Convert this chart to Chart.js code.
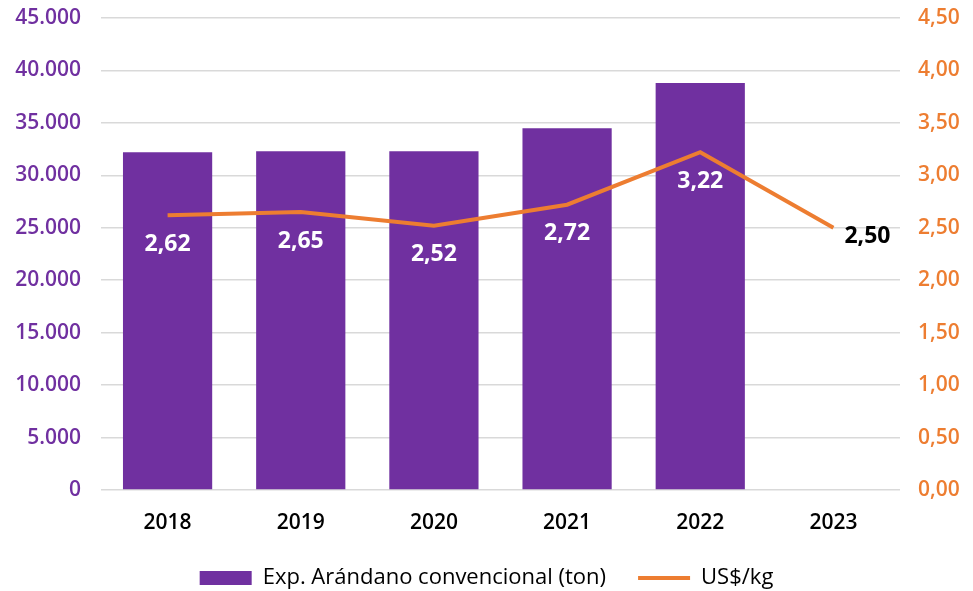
<!DOCTYPE html>
<html>
<head>
<meta charset="utf-8">
<script src="https://cdn.jsdelivr.net/npm/chart.js@4"></script>
<style>
  html, body { margin: 0; padding: 0; background: #fff; }
  #wrap { width: 973px; height: 591px; }
</style>
</head>
<body>
<div id="wrap"><canvas id="chart" width="973" height="591"></canvas></div>
<script>
// Data
const years = ['2018', '2019', '2020', '2021', '2022', '2023'];
const exportTons = [32200, 32300, 32300, 34500, 38800, null];
const pricePerKg = [2.62, 2.65, 2.52, 2.72, 3.22, 2.50];

const PURPLE = '#7030A0';
const ORANGE = '#ED7D31';
const FONT = '"Open Sans", Lato, sans-serif';

const fmtThousands = v => v.toLocaleString('de-DE');
const fmtDecimal = v => v.toFixed(2).replace('.', ',');

// point labels for the price line
const priceLabels = {
  id: 'priceLabels',
  afterDatasetsDraw(chart) {
    const meta = chart.getDatasetMeta(1);
    const ctx = chart.ctx;
    ctx.save();
    ctx.font = 'bold 23px ' + FONT;
    ctx.textBaseline = 'middle';
    meta.data.forEach((pt, i) => {
      const v = pricePerKg[i];
      if (v == null) return;
      if (exportTons[i] == null) {
        ctx.fillStyle = '#000';
        ctx.textAlign = 'left';
        ctx.fillText(fmtDecimal(v), pt.x + 11, pt.y + 9);
      } else {
        ctx.fillStyle = '#fff';
        ctx.textAlign = 'center';
        ctx.fillText(fmtDecimal(v), pt.x, pt.y + 29);
      }
    });
    ctx.restore();
  }
};

// keep the y axes from pushing the plot area down
const noVPad = s => { s.paddingTop = 0; s.paddingBottom = 0; };

new Chart(document.getElementById('chart'), {
  type: 'bar',
  data: {
    labels: years,
    datasets: [
      {
        type: 'bar',
        label: 'Exp. Arándano convencional (ton)',
        data: exportTons,
        backgroundColor: PURPLE,
        yAxisID: 'y',
        categoryPercentage: 1,
        barPercentage: 0.67,
        pointStyle: 'rect',
        order: 2
      },
      {
        type: 'line',
        label: 'US$/kg',
        data: pricePerKg,
        borderColor: ORANGE,
        backgroundColor: ORANGE,
        borderWidth: 4,
        pointRadius: 0,
        tension: 0,
        yAxisID: 'y1',
        pointStyle: 'line',
        order: 1
      }
    ]
  },
  options: {
    responsive: false,
    animation: false,
    layout: { padding: { top: 18, bottom: -8 } },
    plugins: {
      tooltip: { enabled: false },
      legend: {
        position: 'bottom',
        labels: {
          usePointStyle: true,
          pointStyleWidth: 52,
          boxHeight: 14,
          padding: 32,
          color: '#000',
          font: { family: FONT, size: 22 },
          sort: (a, b) => a.datasetIndex - b.datasetIndex
        }
      }
    },
    scales: {
      x: {
        grid: { display: false },
        border: { display: false },
        ticks: { color: '#000', font: { family: FONT, size: 21, weight: '600' }, padding: 12 },
        afterFit(s) { s.height = 45; }
      },
      y: {
        position: 'left',
        min: 0,
        max: 45000,
        ticks: {
          stepSize: 5000,
          color: PURPLE,
          padding: 20,
          font: { family: FONT, size: 21, weight: '600' },
          callback: v => fmtThousands(v)
        },
        grid: { color: '#d9d9d9', lineWidth: 1.5, drawTicks: false },
        border: { display: false },
        afterFit(s) { s.width = 101; noVPad(s); }
      },
      y1: {
        position: 'right',
        min: 0,
        max: 4.5,
        ticks: {
          stepSize: 0.5,
          color: ORANGE,
          padding: 18,
          font: { family: FONT, size: 21, weight: '600' },
          callback: v => fmtDecimal(v)
        },
        grid: { display: false, drawTicks: false },
        border: { display: false },
        afterFit(s) { s.width = 73; noVPad(s); }
      }
    }
  },
  plugins: [priceLabels]
});
</script>
</body>
</html>
